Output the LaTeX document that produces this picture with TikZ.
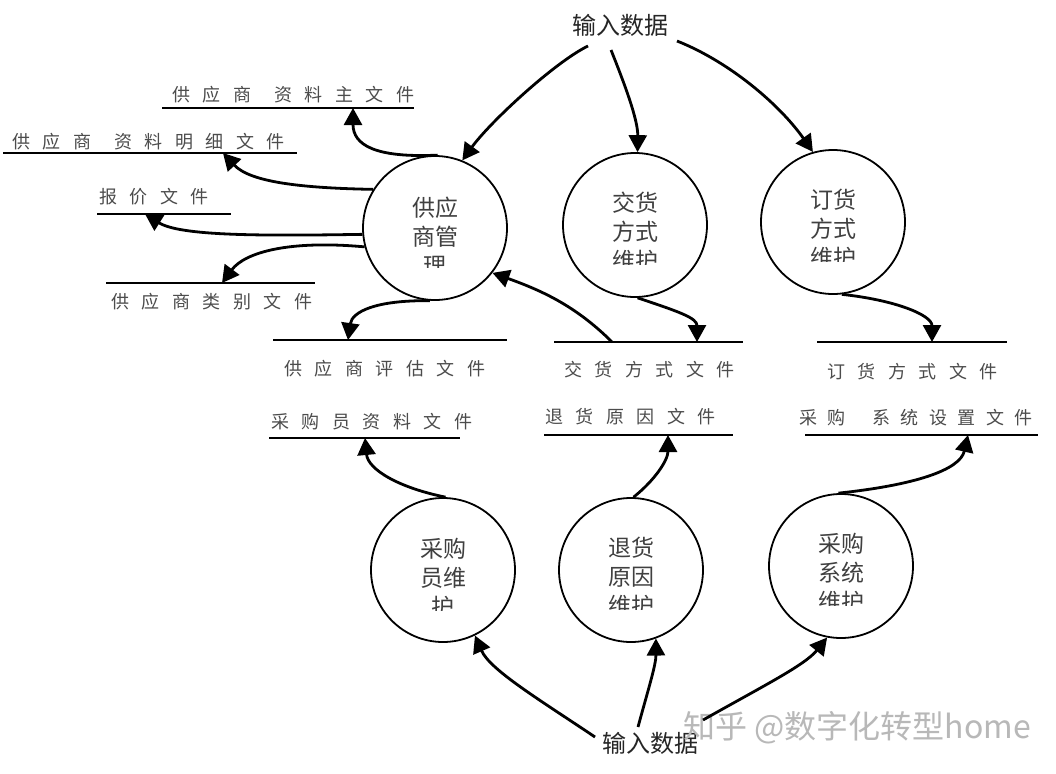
\documentclass[tikz,border=0pt]{standalone}
\usepackage{fontspec}
\setmainfont{Noto Sans CJK SC}
\usetikzlibrary{arrows.meta}
\newlength\lspw
\setlength\lspw{12.5pt}
\def\lsp#1{\lspfirst#1\relax}
\def\lspfirst#1{#1\lsprest}
\def\lsprest#1{\ifx\relax#1\else\hspace{\lspw}#1\expandafter\lsprest\fi}
\def\xg{\hspace{-2pt}}
\def\xgb{\hspace{5.5pt}}
\begin{document}
\begin{tikzpicture}[x=1pt,y=-1pt,
  proc/.style={circle, draw, line width=1.8pt, minimum size=144pt, inner sep=0pt},
  ptext/.style={align=center, font=\fontsize{23}{29}\selectfont, text=black!75, inner sep=0pt},
  ftext/.style={font=\fontsize{18}{22}\selectfont, text=black!70, inner sep=0pt, anchor=west},
  itext/.style={font=\fontsize{24}{28}\selectfont, text=black!85, inner sep=0pt},
  storeline/.style={line width=2.4pt},
  flow/.style={line width=2.8pt, -{Triangle[length=17pt,width=18pt]}}]
\fill[white] (0,0) rectangle (1056,773);
\useasboundingbox (0,0) rectangle (1056,773);

% processes
\node[proc] (c1) at (435,228) {};
\node[proc] (c2) at (635,225) {};
\node[proc] (c3) at (833,222) {};
\node[proc] (c4) at (443,570) {};
\node[proc] (c5) at (631,570) {};
\node[proc] (c6) at (841,566) {};

\begin{scope}\clip (385,170) rectangle (485,267);
\node[ptext] (t1) at (435,236) {供应\\商管\\理};\end{scope}
\begin{scope}\clip (585,170) rectangle (685,264);
\node[ptext] (t2) at (635,232) {交货\\方式\\维护};\end{scope}
\begin{scope}\clip (783,170) rectangle (883,261);
\node[ptext] (t3) at (833,229) {订货\\方式\\维护};\end{scope}
\begin{scope}\clip (393,510) rectangle (493,610);
\node[ptext] (t4) at (443,578) {采购\\员维\\护};\end{scope}
\begin{scope}\clip (581,510) rectangle (681,609);
\node[ptext] (t5) at (631,577) {退货\\原因\\维护};\end{scope}
\begin{scope}\clip (791,505) rectangle (891,605);
\node[ptext] (t6) at (841,573) {采购\\系统\\维护};\end{scope}

% input labels
\node[itext] (in1) at (620,25) {输入数据};
\node[itext] (in2) at (650,743) {输入数据};
\node[font=\fontsize{32}{36}\selectfont, text=black!28, inner sep=0pt] (wm) at (857,728) {知乎 @数字化转型home};

% data stores
\coordinate (s1a) at (162,108); \coordinate (s1b) at (414,108);
\coordinate (s2a) at (3,153);   \coordinate (s2b) at (297,153);
\coordinate (s3a) at (97,214);  \coordinate (s3b) at (231,214);
\coordinate (s4a) at (106,283); \coordinate (s4b) at (315,283);
\coordinate (s5a) at (273,340); \coordinate (s5b) at (507,340);
\coordinate (s6a) at (554,342); \coordinate (s6b) at (743,342);
\coordinate (s7a) at (817,342); \coordinate (s7b) at (1007,342);
\coordinate (s8a) at (269,438); \coordinate (s8b) at (460,438);
\coordinate (s9a) at (544,435); \coordinate (s9b) at (733,435);
\coordinate (s10a) at (805,435); \coordinate (s10b) at (1038,435);
\foreach \s in {s1,s2,s3,s4,s5,s6,s7,s8,s9,s10} \draw[storeline] (\s a) -- (\s b);

\node[ftext] (l1) at (172,95) {\lsp{供应商\xg 资料主文件}};
\node[ftext] (l2) at (12,142) {\lsp{供应商\xg 资料明细文件}};
\node[ftext] (l3) at (99,197) {\lsp{报价文件}};
\node[ftext] (l4) at (111,302) {\lsp{供应商类别文件}};
\node[ftext] (l5) at (284,369) {\lsp{供应商评估文件}};
\node[ftext] (l6) at (564,370) {\lsp{交货方式文件}};
\node[ftext] (l7) at (827,372) {\lsp{订货方式文件}};
\node[ftext] (l8) at (271,422) {\lsp{采购员资料文件}};
\node[ftext] (l9) at (545,417) {\lsp{退货原因文件}};
\node[ftext] (l10) at (799,418) {\setlength\lspw{10.5pt}\lsp{采购\xgb 系统设置文件}};

% connector end points on stores / labels
\coordinate (s1t) at (353,108);
\coordinate (s2t) at (223,153);
\coordinate (s3t) at (145,214);
\coordinate (s4t) at (222,283);
\coordinate (s5t) at (348,340);
\coordinate (s6t) at (697,342);
\coordinate (s6s) at (612,342);
\coordinate (s7t) at (932,342);
\coordinate (s8t) at (365,438);
\coordinate (s9t) at (668,435);
\coordinate (s10t) at (968,435);
\coordinate (i1a) at (588,46);
\coordinate (i1b) at (611,50);
\coordinate (i1c) at (677,41);
\coordinate (i2a) at (595,737);
\coordinate (i2b) at (638,727);
\coordinate (i2c) at (703,720);

% flows
\draw[flow] (i1a) .. controls (555,62) and (490,122) .. (c1.68);
\draw[flow] (i1b) .. controls (625,85) and (638,120) .. (c2.88);
\draw[flow] (i1c) .. controls (730,62) and (780,105) .. (c3.106);

\draw[flow] (c1.88) .. controls (375,158) and (353,145) .. (s1t);
\draw[flow] (c1.148) .. controls (300,188) and (250,182) .. (s2t);
\draw[flow] (c1.185) .. controls (260,236) and (180,236) .. (s3t);
\draw[flow] (c1.195) .. controls (290,240) and (245,252) .. (s4t);
\draw[flow] (c1.266) .. controls (375,300) and (352,312) .. (s5t);

\draw[flow] (c2.272) .. controls (680,312) and (697,318) .. (s6t);
\draw[flow] (s6s) .. controls (575,305) and (540,290) .. (c1.322);
\draw[flow] (c3.277) .. controls (895,300) and (932,315) .. (s7t);

\draw[flow] (c4.88) .. controls (400,488) and (368,470) .. (s8t);
\draw[flow] (c5.88) .. controls (655,480) and (668,460) .. (s9t);
\draw[flow] (c6.92) .. controls (915,485) and (960,470) .. (s10t);

\draw[flow] (i2a) .. controls (540,700) and (490,670) .. (c4.296);
\draw[flow] (i2b) .. controls (648,690) and (656,665) .. (c5.290);
\draw[flow] (i2c) .. controls (765,685) and (805,665) .. (c6.259);
\end{tikzpicture}
\end{document}
